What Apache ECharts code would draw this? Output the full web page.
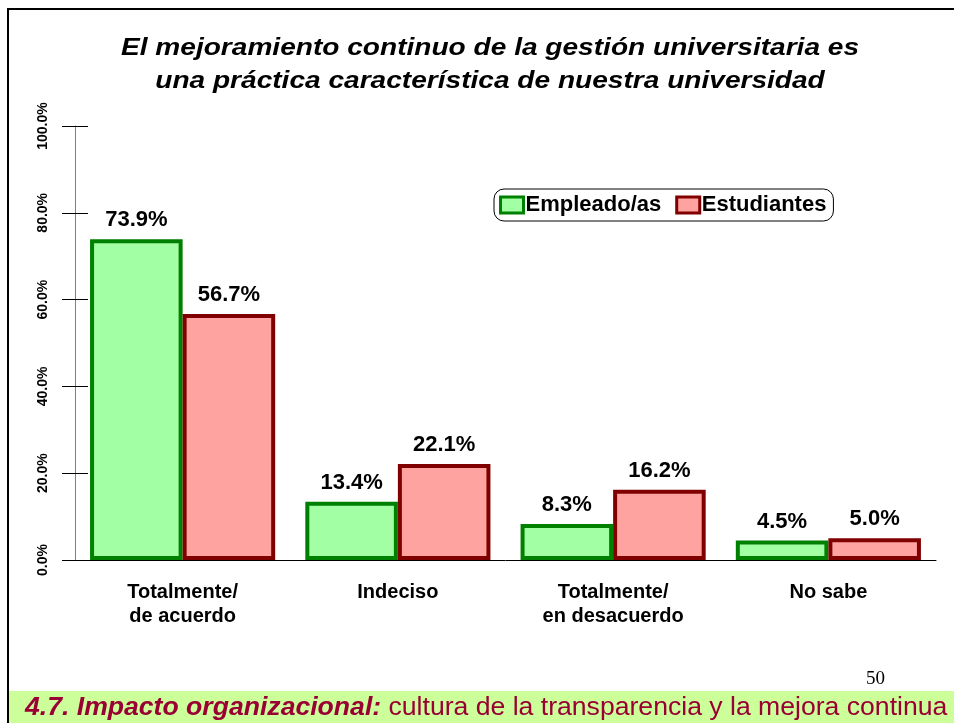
<!DOCTYPE html>
<html>
<head>
<meta charset="utf-8">
<script src="https://cdn.jsdelivr.net/npm/echarts@6/dist/echarts.min.js"></script>
<style>
html, body { margin: 0; padding: 0; background: #fff; }
</style>
</head>
<body>
<div id="main" style="width: 954px;height:723px;"></div>

<script type="text/javascript">
// datos
var categorias = ['Totalmente/\nde acuerdo', 'Indeciso', 'Totalmente/\nen desacuerdo', 'No sabe'];
var empleados = [73.9, 13.4, 8.3, 4.5];
var estudiantes = [56.7, 22.1, 16.2, 5.0];
var yTicks = [0, 20, 40, 60, 80, 100];

var fuente = '"Liberation Sans", Arial, sans-serif';

var etiqueta = {
    show: true,
    position: 'top',
    distance: 8,
    fontFamily: fuente,
    fontWeight: 'bold',
    fontSize: 22,
    color: '#000',
    formatter: function (p) { return p.value.toFixed(1) + '%'; }
};

var option = {
    animation: false,
    backgroundColor: '#fff',
    legend: {
        left: 494,
        top: 189,
        padding: [5, 7, 5, 5],
        borderColor: '#000',
        borderWidth: 1,
        borderRadius: 10,
        icon: 'rect',
        itemWidth: 23,
        itemHeight: 16,
        itemGap: 14,
        itemStyle: { borderWidth: 3 },
        textStyle: {
            fontFamily: fuente,
            fontWeight: 'bold',
            fontSize: 22,
            color: '#000',
            padding: [0, 0, 0, -3]
        },
        data: ['Empleado/as', 'Estudiantes']
    },
    grid: {
        left: 75,
        right: 18,
        top: 126,
        bottom: 163
    },
    xAxis: {
        type: 'category',
        data: categorias,
        axisLine: { lineStyle: { color: '#000', width: 1 } },
        axisTick: { alignWithLabel: true, length: 12, lineStyle: { color: '#000' } },
        axisLabel: {
            margin: 20,
            fontFamily: fuente,
            fontWeight: 'bold',
            fontSize: 20,
            lineHeight: 24,
            color: '#000'
        }
    },
    yAxis: [{
        type: 'value',
        min: yTicks[0],
        max: yTicks[yTicks.length - 1],
        interval: 20,
        splitLine: { show: false },
        axisLine: { show: true, lineStyle: { color: '#808080', width: 1 } },
        axisTick: { show: true, length: 13, lineStyle: { color: '#000' } },
        axisLabel: {
            rotate: 90,
            margin: 25,
            fontFamily: fuente,
            fontWeight: 'bold',
            fontSize: 14,
            color: '#000',
            formatter: function (v) { return v.toFixed(1) + '%'; }
        }
    }, {
        // ticks hacia dentro
        type: 'value',
        position: 'left',
        min: yTicks[0],
        max: yTicks[yTicks.length - 1],
        interval: 20,
        splitLine: { show: false },
        axisLine: { show: false },
        axisTick: { show: true, inside: true, length: 13, lineStyle: { color: '#000' } },
        axisLabel: { show: false }
    }],
    series: [{
        name: 'Empleado/as',
        type: 'bar',
        data: empleados,
        barGap: '0%',
        barCategoryGap: '14%',
        itemStyle: { color: '#a3ffa3', borderColor: '#008000', borderWidth: 4 },
        label: etiqueta
    }, {
        name: 'Estudiantes',
        type: 'bar',
        data: estudiantes,
        itemStyle: { color: '#ffa3a0', borderColor: '#800000', borderWidth: 4 },
        label: etiqueta
    }],
    graphic: [{
        type: 'rect',
        shape: { x: 9, y: 691, width: 945, height: 32 },
        style: { fill: '#ccff99' },
        silent: true
    }, {
        type: 'polyline',
        shape: { points: [[8, 723], [8, 9], [954, 9]] },
        style: { stroke: '#000', lineWidth: 2, fill: null },
        silent: true
    }, {
        // titulo, algo ensanchado como en el original
        type: 'text',
        x: 490,
        y: 32,
        scaleX: 1.17,
        style: {
            text: 'El mejoramiento continuo de la gestión universitaria es\nuna práctica característica de nuestra universidad',
            font: 'italic bold 24px "Liberation Sans", Arial',
            lineHeight: 33,
            align: 'center',
            verticalAlign: 'top',
            fill: '#000'
        }
    }, {
        type: 'text',
        left: 866,
        top: 670,
        style: {
            text: '50',
            font: '19px "Liberation Serif", "Times New Roman", serif',
            fill: '#000'
        }
    }, {
        type: 'text',
        left: 25,
        top: 694,
        style: {
            text: '{b|4.7. Impacto organizacional:} cultura de la transparencia y la mejora continua',
            fill: '#990033',
            font: '26.6px "Liberation Sans", Arial',
            rich: {
                b: {
                    fontFamily: fuente,
                    fontSize: 26.6,
                    fontWeight: 'bold',
                    fontStyle: 'italic',
                    fill: '#990033'
                }
            }
        }
    }]
};

var myChart = echarts.init(document.getElementById('main'));
myChart.setOption(option);
</script>
</body>
</html>
